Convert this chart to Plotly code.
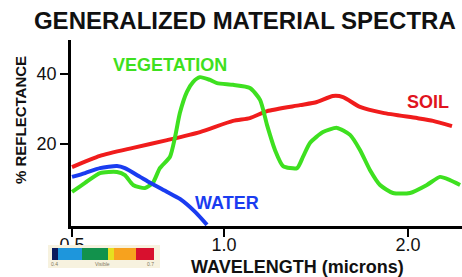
import numpy as np
import plotly.graph_objects as go

# ---- data ----
soil_wl = [0.50, 0.592, 0.701, 0.813, 0.921, 1.049, 1.141, 1.234, 1.413, 1.505, 1.592, 1.647, 1.739, 1.864, 2.049, 2.136, 2.239]
soil_ref = [13.4, 16.6, 18.9, 21.1, 23.4, 26.6, 27.4, 29.4, 31.1, 32.0, 33.7, 33.4, 30.6, 28.9, 27.4, 26.6, 25.1]

water_wl = [0.50, 0.543, 0.592, 0.648, 0.674, 0.724, 0.757, 0.813, 0.855, 0.905, 0.944]
water_ref = [10.6, 11.7, 13.1, 13.7, 13.1, 10.6, 8.9, 6.3, 4.3, 0.6, -3.1]

veg_wl = [0.50, 0.543, 0.592, 0.648, 0.674, 0.701, 0.740, 0.766, 0.789, 0.822, 0.839, 0.855, 0.878, 0.898,
          0.921, 0.954, 0.977, 1.049, 1.141, 1.196, 1.234, 1.277, 1.321, 1.397, 1.429, 1.467, 1.538, 1.614,
          1.685, 1.739, 1.793, 1.848, 1.918, 2.011, 2.103, 2.174, 2.228, 2.283]
veg_ref = [6.3, 8.9, 11.7, 12.0, 11.1, 8.3, 7.4, 8.9, 13.1, 16.3, 22.0, 28.9, 34.9, 37.7,
           39.1, 38.3, 37.4, 36.9, 36.0, 32.6, 25.4, 18.3, 13.7, 13.1, 16.3, 20.3, 23.4, 24.6,
           22.6, 18.3, 12.6, 8.3, 6.0, 6.0, 8.3, 10.6, 9.7, 8.3]

x_tick_wl = [0.5, 1.0, 2.0]
x_tick_labels = ["0.5", "1.0", "2.0"]
y_tick_vals = [20, 40]
y_tick_labels = ["20", "40"]

spectrum_colors = ["#0c1a5c", "#1e96dc", "#12924c", "#e6e020", "#f7a21e", "#d8102e"]
spectrum_labels = ["0.4", "Visible", "0.7"]

# the reference's wavelength axis is not evenly spaced; reproduce its scale
scale_wl = [0.5, 1.0, 2.0, 2.5]
scale_pos = [0, 152, 336, 428]


def to_axis(wl):
    return np.interp(np.asarray(wl, dtype=float), scale_wl, scale_pos)


FONT = "Liberation Sans, Arial, sans-serif"
RED = "#f01c1c"
GREEN = "#3ee020"
BLUE = "#1a3cf0"
INK = "#111111"

L, T, W, H = 71, 40, 391, 186   # plot area in pixels


def px(x):
    return (x - L) / W


def py(y):
    return (T + H - y) / H


fig = go.Figure()
for wl, ref, col, name in [(soil_wl, soil_ref, RED, "Soil"),
                           (veg_wl, veg_ref, GREEN, "Vegetation"),
                           (water_wl, water_ref, BLUE, "Water")]:
    fig.add_trace(go.Scatter(x=to_axis(wl), y=ref, mode="lines", name=name,
                             line=dict(color=col, width=4, shape="spline", smoothing=0.6),
                             hoverinfo="skip"))

labels = [("VEGETATION", 0.822, 42.6, GREEN, 18),
          ("SOIL", 2.109, 32.0, "#e0141e", 18),
          ("WATER", 1.014, 3.1, BLUE, 18)]
for txt, wl, v, col, sz in labels:
    fig.add_annotation(x=float(to_axis(wl)), y=v, text="<b>%s</b>" % txt, showarrow=False,
                       font=dict(family=FONT, size=sz, color=col), xanchor="center", yanchor="middle")

# axis titles placed precisely
fig.add_annotation(x=px(297), y=py(267), xref="paper", yref="paper",
                   text="<b>WAVELENGTH (microns)</b>", showarrow=False,
                   font=dict(family=FONT, size=18, color=INK), xanchor="center", yanchor="middle")
fig.add_annotation(x=px(21), y=py(120), xref="paper", yref="paper", textangle=-90,
                   text="<b>% REFLECTANCE</b>", showarrow=False,
                   font=dict(family=FONT, size=15, color=INK), xanchor="center", yanchor="middle")

# spectrum inset (bottom left)
widths = [6, 24, 26, 6, 22, 18]
x0 = 52
shapes = [dict(type="rect", xref="paper", yref="paper",
               x0=px(48), x1=px(160), y0=py(268), y1=py(245),
               fillcolor="#f7f2df", line=dict(width=0), layer="above")]
for c, w in zip(spectrum_colors, widths):
    shapes.append(dict(type="rect", xref="paper", yref="paper",
                       x0=px(x0), x1=px(x0 + w), y0=py(260), y1=py(248),
                       fillcolor=c, line=dict(width=0), layer="above"))
    x0 += w
for lbl, lx in zip(spectrum_labels, [54, 102, 150]):
    fig.add_annotation(x=px(lx), y=py(264), xref="paper", yref="paper",
                       text=lbl, showarrow=False, font=dict(family=FONT, size=5, color="#807860"),
                       xanchor="center", yanchor="middle")

fig.update_layout(
    width=462, height=277,
    margin=dict(l=L, r=0, t=T, b=277 - T - H),
    paper_bgcolor="white", plot_bgcolor="white",
    showlegend=False,
    shapes=shapes,
    title=dict(text="<b>GENERALIZED MATERIAL SPECTRA</b>", x=0.53, xanchor="center",
               y=0.926, yanchor="middle", xref="container", yref="container",
               font=dict(family=FONT, size=24, color=INK)),
    xaxis=dict(range=[-1, 390], tickvals=list(to_axis(x_tick_wl)), ticktext=x_tick_labels,
               showgrid=False, zeroline=False, showline=True, linecolor="black", linewidth=2.5,
               ticks="outside", ticklen=8, tickwidth=2, tickcolor="black", ticklabelstandoff=-7,
               tickfont=dict(family=FONT, size=18, color=INK)),
    yaxis=dict(range=[-3.43, 49.71], tickvals=y_tick_vals, ticktext=y_tick_labels,
               showgrid=False, zeroline=False, showline=True, linecolor="black", linewidth=2.5,
               ticks="outside", ticklen=8, tickwidth=2, tickcolor="black",
               tickfont=dict(family=FONT, size=18, color=INK)),
)
fig.update_xaxes(tickprefix="<b>", ticksuffix="</b>")
fig.update_yaxes(tickprefix="<b>", ticksuffix="</b>")

fig.write_html("out.html", config={"displayModeBar": False},
               post_script="document.body.style.margin='0';document.body.style.overflow='hidden';")
